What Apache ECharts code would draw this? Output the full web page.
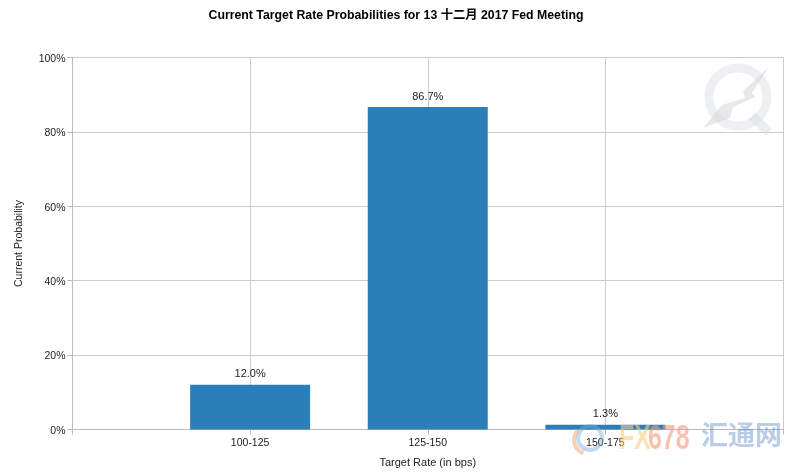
<!DOCTYPE html>
<html lang="en">

<head>
    <meta charset="UTF-8">
    <title>Target Rate Probabilities</title>
    <script src="https://cdn.jsdelivr.net/npm/echarts@6/dist/echarts.min.js"></script>
    <style>
        * {
            margin: 0;
            padding: 0
        }

        html,
        body {
            height: 100%;
            background: #fff;
        }
    </style>
</head>

<body>
    <div id="main" style="width:799px;height:475px"></div>

    <script>
        // empty slots at both ends keep the bars inset, like the original axis
        var categories = ['', '100-125', '125-150', '150-175', ''];
        var probabilities = [null, 12.0, 86.7, 1.3, null];
        var yTicks = [0, 20, 40, 60, 80, 100];

        var chartTitle = 'Current Target Rate Probabilities for 13 十二月 2017 Fed Meeting';
        var fontName = '"Liberation Sans", "Noto Sans CJK SC", sans-serif';

        echarts.init(document.getElementById('main')).setOption({
            animation: false,
            backgroundColor: '#fff',
            title: {
                text: chartTitle,
                left: 391,
                top: 4,
                textAlign: 'center',
                textStyle: {
                    fontFamily: fontName,
                    fontSize: 12.3,
                    fontWeight: 'bold',
                    color: '#000'
                }
            },
            grid: {
                left: 72.5,
                right: 16,
                top: 57.5,
                bottom: 45.5
            },
            xAxis: {
                type: 'category',
                data: categories,
                boundaryGap: false,
                name: 'Target Rate (in bps)',
                nameLocation: 'middle',
                nameGap: 28,
                nameTextStyle: { fontFamily: fontName, fontSize: 11, color: '#222' },
                axisLine: { lineStyle: { color: '#bbb', width: 1 } },
                axisTick: { show: true, length: 5, alignWithLabel: true, lineStyle: { color: '#bbb' } },
                axisLabel: {
                    show: true,
                    interval: 0,
                    margin: 8,
                    fontFamily: fontName,
                    fontSize: 10.5,
                    color: '#222'
                },
                splitLine: { show: true, interval: 0, lineStyle: { color: '#ccc', width: 1 } }
            },
            yAxis: {
                type: 'value',
                min: yTicks[0],
                max: yTicks[yTicks.length - 1],
                interval: 20,
                name: 'Current Probability',
                nameLocation: 'middle',
                nameGap: 48,
                nameTextStyle: { fontFamily: fontName, fontSize: 10.5, color: '#222' },
                axisLine: { show: true, lineStyle: { color: '#bbb', width: 1 } },
                axisTick: { show: true, length: 5, lineStyle: { color: '#bbb' } },
                axisLabel: {
                    margin: 7,
                    fontFamily: fontName,
                    fontSize: 10.5,
                    color: '#222',
                    formatter: '{a|{value}%}',
                    rich: {
                        a: {
                            fontFamily: fontName,
                            fontSize: 10.5,
                            color: '#222',
                            padding: [3, 0, 0, 0]
                        }
                    }
                },
                splitLine: { show: true, lineStyle: { color: '#ccc', width: 1 } }
            },
            series: [{
                type: 'bar',
                data: probabilities,
                barWidth: 120,
                itemStyle: { color: '#2a7fb8' },
                label: {
                    show: true,
                    position: 'top',
                    distance: 5,
                    fontFamily: fontName,
                    fontSize: 11,
                    color: '#222',
                    formatter: function (p) {
                        return p.value.toFixed(1) + '%';
                    }
                }
            }],
            // watermarks
            graphic: [
                {
                    type: 'circle', z: 1, silent: true,
                    shape: { cx: 738, cy: 97, r: 29 },
                    style: { fill: 'none', stroke: 'rgba(215,222,228,0.45)', lineWidth: 9 }
                },
                {
                    type: 'line', z: 1, silent: true,
                    shape: { x1: 752, y1: 116, x2: 769, y2: 132 },
                    style: { stroke: 'rgba(215,222,228,0.5)', lineWidth: 9 }
                },
                {
                    type: 'polygon', z: 1, silent: true,
                    shape: { points: [[768, 68], [743, 91], [745, 98], [722, 105], [703, 128], [730, 118], [733, 107], [755, 97], [752, 93]] },
                    style: { fill: 'rgba(210,210,210,0.5)' }
                },
                {
                    type: 'circle', z: 20, silent: true,
                    shape: { cx: 590, cy: 438, r: 12 },
                    style: { fill: 'none', stroke: 'rgba(120,170,220,0.45)', lineWidth: 4 }
                },
                {
                    type: 'arc', z: 20, silent: true,
                    shape: { cx: 588, cy: 440, r: 14, startAngle: 1.9, endAngle: 3.9 },
                    style: { fill: 'none', stroke: 'rgba(245,150,90,0.45)', lineWidth: 4 }
                },
                {
                    type: 'text', z: 20, silent: true,
                    x: 619, y: 421, scaleX: 0.86, scaleY: 1.24,
                    style: {
                        text: 'FX',
                        font: 'bold 29px "Liberation Sans", sans-serif',
                        fill: 'rgba(250,205,130,0.6)'
                    }
                },
                {
                    type: 'text', z: 20, silent: true,
                    x: 648, y: 421, scaleX: 0.86, scaleY: 1.24,
                    style: {
                        text: '678',
                        font: 'bold 29px "Liberation Sans", sans-serif',
                        fill: 'rgba(248,150,120,0.6)'
                    }
                },
                {
                    type: 'text', z: 20, silent: true,
                    x: 701, y: 421,
                    style: {
                        text: '汇通网',
                        font: 'bold 27px "Noto Sans CJK SC", sans-serif',
                        fill: 'rgba(100,145,200,0.45)'
                    }
                }
            ]
        });
    </script>
</body>

</html>
